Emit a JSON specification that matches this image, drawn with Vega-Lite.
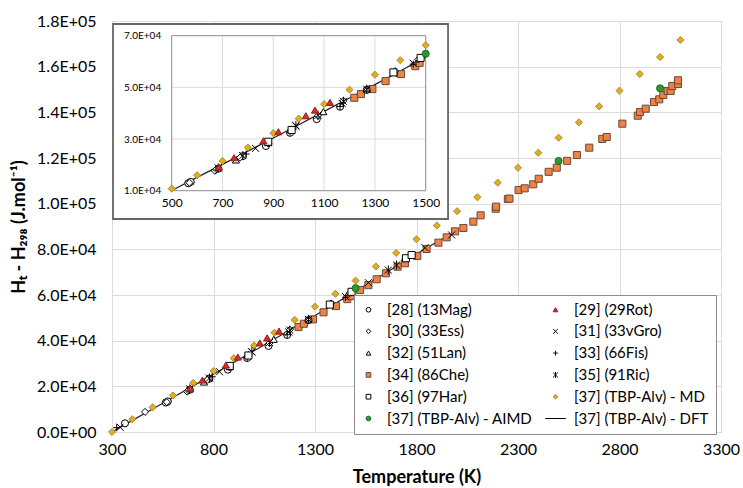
{
  "$schema": "https://vega.github.io/schema/vega-lite/v6.json",
  "width": 609,
  "height": 411,
  "autosize": {"type": "none"},
  "padding": {"left": 112, "top": 21, "right": 22, "bottom": 56},
  "background": "white",
  "config": {
    "font": "Lato",
    "view": {"stroke": "#8c8c8c", "strokeWidth": 1},
    "axis": {"labelFont": "Lato", "titleFont": "Lato", "labelColor": "#000", "titleColor": "#000", "gridColor": "#dcdcdc", "gridWidth": 1},
    "legend": {
      "orient": "none", "legendX": 242, "legendY": 274, "columns": 2, "direction": "horizontal",
      "fillColor": "white", "strokeColor": "#8c8c8c", "padding": 7,
      "rowPadding": 5.8, "columnPadding": 10, "labelFont": "Lato", "labelFontSize": 15,
      "labelColor": "#000", "labelOffset": 11, "labelLimit": 300, "symbolSize": 22, "symbolStrokeWidth": 1
    }
  },
  "datasets": {
    "dft": [
      {"T": 300, "H": 0}, {"T": 400, "H": 5100}, {"T": 500, "H": 10100}, {"T": 600, "H": 15150},
      {"T": 700, "H": 20200}, {"T": 800, "H": 25300}, {"T": 900, "H": 30400}, {"T": 1000, "H": 35550},
      {"T": 1100, "H": 40700}, {"T": 1200, "H": 45850}, {"T": 1300, "H": 51050}, {"T": 1400, "H": 56300},
      {"T": 1500, "H": 61700}, {"T": 1600, "H": 67000}, {"T": 1700, "H": 72500}, {"T": 1800, "H": 78000},
      {"T": 1900, "H": 83200}, {"T": 2000, "H": 88000}
    ],
    "pts": [
      {"s": "[34] (86Che)", "T": 1219, "H": 45970}, {"s": "[34] (86Che)", "T": 1245, "H": 47400},
      {"s": "[34] (86Che)", "T": 1290, "H": 49340}, {"s": "[34] (86Che)", "T": 1342, "H": 52430},
      {"s": "[34] (86Che)", "T": 1403, "H": 55140}, {"s": "[34] (86Che)", "T": 1459, "H": 58200},
      {"s": "[34] (86Che)", "T": 1476, "H": 59500}, {"s": "[34] (86Che)", "T": 1522, "H": 62190},
      {"s": "[34] (86Che)", "T": 1563, "H": 64300}, {"s": "[34] (86Che)", "T": 1604, "H": 66900},
      {"s": "[34] (86Che)", "T": 1650, "H": 69500}, {"s": "[34] (86Che)", "T": 1707, "H": 72400},
      {"s": "[34] (86Che)", "T": 1743, "H": 73900}, {"s": "[34] (86Che)", "T": 1804, "H": 77080},
      {"s": "[34] (86Che)", "T": 1850, "H": 80150}, {"s": "[34] (86Che)", "T": 1908, "H": 82920},
      {"s": "[34] (86Che)", "T": 1949, "H": 85260}, {"s": "[34] (86Che)", "T": 1990, "H": 87880},
      {"s": "[34] (86Che)", "T": 2031, "H": 89340}, {"s": "[34] (86Che)", "T": 2080, "H": 92120},
      {"s": "[34] (86Che)", "T": 2116, "H": 94890}, {"s": "[34] (86Che)", "T": 2190, "H": 97800},
      {"s": "[34] (86Che)", "T": 2192, "H": 98690}, {"s": "[34] (86Che)", "T": 2250, "H": 102050},
      {"s": "[34] (86Che)", "T": 2258, "H": 102200}, {"s": "[34] (86Che)", "T": 2303, "H": 105990},
      {"s": "[34] (86Che)", "T": 2333, "H": 106720}, {"s": "[34] (86Che)", "T": 2375, "H": 108480},
      {"s": "[34] (86Che)", "T": 2402, "H": 110900}, {"s": "[34] (86Che)", "T": 2451, "H": 113950},
      {"s": "[34] (86Che)", "T": 2491, "H": 115770}, {"s": "[34] (86Che)", "T": 2542, "H": 118760},
      {"s": "[34] (86Che)", "T": 2590, "H": 121300}, {"s": "[34] (86Che)", "T": 2651, "H": 124520},
      {"s": "[34] (86Che)", "T": 2715, "H": 128330}, {"s": "[34] (86Che)", "T": 2737, "H": 129200},
      {"s": "[34] (86Che)", "T": 2814, "H": 135030}, {"s": "[34] (86Che)", "T": 2890, "H": 138530},
      {"s": "[34] (86Che)", "T": 2901, "H": 140150}, {"s": "[34] (86Che)", "T": 2929, "H": 141600},
      {"s": "[34] (86Che)", "T": 2970, "H": 144530}, {"s": "[34] (86Che)", "T": 2996, "H": 145700},
      {"s": "[34] (86Che)", "T": 3016, "H": 147600}, {"s": "[34] (86Che)", "T": 3037, "H": 149350},
      {"s": "[34] (86Che)", "T": 3052, "H": 149350}, {"s": "[34] (86Che)", "T": 3060, "H": 151540},
      {"s": "[34] (86Che)", "T": 3088, "H": 152410}, {"s": "[34] (86Che)", "T": 3088, "H": 154030},
      {"s": "[37] (TBP-Alv) - MD", "T": 300, "H": 0}, {"s": "[37] (TBP-Alv) - MD", "T": 400, "H": 5600},
      {"s": "[37] (TBP-Alv) - MD", "T": 500, "H": 10800}, {"s": "[37] (TBP-Alv) - MD", "T": 600, "H": 16000},
      {"s": "[37] (TBP-Alv) - MD", "T": 700, "H": 21500}, {"s": "[37] (TBP-Alv) - MD", "T": 800, "H": 26700},
      {"s": "[37] (TBP-Alv) - MD", "T": 900, "H": 32300}, {"s": "[37] (TBP-Alv) - MD", "T": 1000, "H": 37900},
      {"s": "[37] (TBP-Alv) - MD", "T": 1100, "H": 43500}, {"s": "[37] (TBP-Alv) - MD", "T": 1200, "H": 49100},
      {"s": "[37] (TBP-Alv) - MD", "T": 1300, "H": 54900}, {"s": "[37] (TBP-Alv) - MD", "T": 1400, "H": 60500},
      {"s": "[37] (TBP-Alv) - MD", "T": 1500, "H": 66300}, {"s": "[37] (TBP-Alv) - MD", "T": 1600, "H": 72500},
      {"s": "[37] (TBP-Alv) - MD", "T": 1700, "H": 78400}, {"s": "[37] (TBP-Alv) - MD", "T": 1800, "H": 84400},
      {"s": "[37] (TBP-Alv) - MD", "T": 1900, "H": 90400}, {"s": "[37] (TBP-Alv) - MD", "T": 2000, "H": 96700},
      {"s": "[37] (TBP-Alv) - MD", "T": 2100, "H": 102800}, {"s": "[37] (TBP-Alv) - MD", "T": 2200, "H": 109200},
      {"s": "[37] (TBP-Alv) - MD", "T": 2300, "H": 115700}, {"s": "[37] (TBP-Alv) - MD", "T": 2400, "H": 122300},
      {"s": "[37] (TBP-Alv) - MD", "T": 2500, "H": 128900}, {"s": "[37] (TBP-Alv) - MD", "T": 2600, "H": 135600},
      {"s": "[37] (TBP-Alv) - MD", "T": 2700, "H": 142600}, {"s": "[37] (TBP-Alv) - MD", "T": 2800, "H": 149500},
      {"s": "[37] (TBP-Alv) - MD", "T": 2900, "H": 156800}, {"s": "[37] (TBP-Alv) - MD", "T": 3000, "H": 164200},
      {"s": "[37] (TBP-Alv) - MD", "T": 3100, "H": 171700},
      {"s": "[28] (13Mag)", "T": 364, "H": 3800}, {"s": "[28] (13Mag)", "T": 565, "H": 12900},
      {"s": "[28] (13Mag)", "T": 575, "H": 13400}, {"s": "[28] (13Mag)", "T": 683, "H": 18500},
      {"s": "[28] (13Mag)", "T": 780, "H": 23400}, {"s": "[28] (13Mag)", "T": 871, "H": 27300},
      {"s": "[28] (13Mag)", "T": 966, "H": 32400}, {"s": "[28] (13Mag)", "T": 1071, "H": 37700},
      {"s": "[28] (13Mag)", "T": 1163, "H": 42500}, {"s": "[28] (13Mag)", "T": 1268, "H": 49000},
      {"s": "[30] (33Ess)", "T": 463, "H": 8800}, {"s": "[30] (33Ess)", "T": 570, "H": 13100},
      {"s": "[30] (33Ess)", "T": 670, "H": 17700}, {"s": "[30] (33Ess)", "T": 769, "H": 22800},
      {"s": "[30] (33Ess)", "T": 880, "H": 28300}, {"s": "[30] (33Ess)", "T": 972, "H": 33700},
      {"s": "[30] (33Ess)", "T": 1076, "H": 39000}, {"s": "[30] (33Ess)", "T": 1176, "H": 44800},
      {"s": "[30] (33Ess)", "T": 1379, "H": 56300}, {"s": "[30] (33Ess)", "T": 1471, "H": 60800},
      {"s": "[31] (33vGro)", "T": 340, "H": 2100}, {"s": "[31] (33vGro)", "T": 830, "H": 26400},
      {"s": "[31] (33vGro)", "T": 989, "H": 35000}, {"s": "[31] (33vGro)", "T": 1171, "H": 43800},
      {"s": "[31] (33vGro)", "T": 1373, "H": 55400}, {"s": "[31] (33vGro)", "T": 1451, "H": 59300},
      {"s": "[31] (33vGro)", "T": 1563, "H": 65400}, {"s": "[31] (33vGro)", "T": 1842, "H": 80700},
      {"s": "[31] (33vGro)", "T": 1973, "H": 86300},
      {"s": "[32] (51Lan)", "T": 753, "H": 21900}, {"s": "[32] (51Lan)", "T": 880, "H": 28600},
      {"s": "[32] (51Lan)", "T": 1097, "H": 40600}, {"s": "[32] (51Lan)", "T": 1268, "H": 49500},
      {"s": "[33] (66Fis)", "T": 323, "H": 1900}, {"s": "[33] (66Fis)", "T": 675, "H": 18000},
      {"s": "[33] (66Fis)", "T": 793, "H": 24200}, {"s": "[33] (66Fis)", "T": 966, "H": 32600},
      {"s": "[33] (66Fis)", "T": 1163, "H": 42600}, {"s": "[33] (66Fis)", "T": 1451, "H": 59000},
      {"s": "[35] (91Ric)", "T": 683, "H": 18800}, {"s": "[35] (91Ric)", "T": 780, "H": 23600},
      {"s": "[35] (91Ric)", "T": 989, "H": 35200}, {"s": "[35] (91Ric)", "T": 1076, "H": 39200},
      {"s": "[35] (91Ric)", "T": 1176, "H": 44600}, {"s": "[35] (91Ric)", "T": 1268, "H": 49300},
      {"s": "[35] (91Ric)", "T": 1661, "H": 70900}, {"s": "[35] (91Ric)", "T": 1702, "H": 73100},
      {"s": "[36] (97Har)", "T": 880, "H": 28950}, {"s": "[36] (97Har)", "T": 972, "H": 33500},
      {"s": "[36] (97Har)", "T": 1373, "H": 55800}, {"s": "[36] (97Har)", "T": 1480, "H": 61400},
      {"s": "[36] (97Har)", "T": 1748, "H": 76100}, {"s": "[36] (97Har)", "T": 1776, "H": 77500},
      {"s": "[29] (29Rot)", "T": 686, "H": 19170}, {"s": "[29] (29Rot)", "T": 745, "H": 22760},
      {"s": "[29] (29Rot)", "T": 861, "H": 29340}, {"s": "[29] (29Rot)", "T": 920, "H": 32820},
      {"s": "[29] (29Rot)", "T": 1028, "H": 39010}, {"s": "[29] (29Rot)", "T": 1064, "H": 41210},
      {"s": "[29] (29Rot)", "T": 1123, "H": 44190},
      {"s": "[37] (TBP-Alv) - AIMD", "T": 1500, "H": 63000}, {"s": "[37] (TBP-Alv) - AIMD", "T": 2500, "H": 118700},
      {"s": "[37] (TBP-Alv) - AIMD", "T": 3000, "H": 150500}
    ],
    "igx": [{"T": 700}, {"T": 900}, {"T": 1100}, {"T": 1300}],
    "igy": [{"H": 30000}, {"H": 50000}]
  },
  "layer": [
    {
      "layer": [
        {
          "data": {"name": "dft"},
          "mark": {"type": "line", "color": "#222222", "strokeWidth": 1.2},
          "encoding": {
            "x": {"field": "T", "type": "quantitative",
              "scale": {"domain": [300, 3300], "nice": false, "zero": false},
              "axis": {"values": [300, 800, 1300, 1800, 2300, 2800, 3300], "format": "d", "grid": true, "domain": false, "ticks": false,
                "title": "Temperature (K)", "labelFontSize": 16, "titleFontSize": 18, "titleFontWeight": "bold",
                "labelPadding": 9, "titlePadding": 11, "labelFlush": false, "labelOverlap": false}},
            "y": {"field": "H", "type": "quantitative",
              "scale": {"domain": [0, 180000], "nice": false, "zero": false},
              "axis": {"values": [0, 20000, 40000, 60000, 80000, 100000, 120000, 140000, 160000, 180000], "grid": true,
                "domain": false, "ticks": false, "title": "Hₜ - H₂₉₈ (J.mol⁻¹)", "labelFontSize": 16, "titleFontSize": 18,
                "titleFontWeight": "bold", "labelPadding": 16, "titlePadding": 8, "labelOverlap": false, "labelFlush": false,
                "labelExpr": "datum.value == 0 ? '0.0E+00' : format(datum.value / pow(10, floor(log(datum.value) / LN10 + 1e-9)), '.1f') + 'E+' + (floor(log(datum.value) / LN10 + 1e-9) < 10 ? '0' : '') + floor(log(datum.value) / LN10 + 1e-9)"}}
          }
        },
        {
          "data": {"name": "pts"},
          "mark": {"type": "point", "size": 50, "strokeWidth": 1, "opacity": 1},
          "encoding": {
            "x": {"field": "T", "type": "quantitative"},
            "y": {"field": "H", "type": "quantitative"},
            "shape": {"field": "s", "type": "nominal", "title": null,
              "scale": {"domain": ["[28] (13Mag)", "[29] (29Rot)", "[30] (33Ess)", "[31] (33vGro)", "[32] (51Lan)", "[33] (66Fis)", "[34] (86Che)", "[35] (91Ric)", "[36] (97Har)", "[37] (TBP-Alv) - MD", "[37] (TBP-Alv) - AIMD", "[37] (TBP-Alv) - DFT"],
                "range": ["circle", "triangle-up", "diamond", "M-1,-1L1,1M-1,1L1,-1", "triangle-up", "M-1,0L1,0M0,-1L0,1", "square", "M-1,-1L1,1M-1,1L1,-1M0,-1.3L0,1.3", "square", "diamond", "circle", "M-4.4,0L4.4,0"]}},
            "fill": {"field": "s", "type": "nominal", "title": null,
              "scale": {"domain": ["[28] (13Mag)", "[29] (29Rot)", "[30] (33Ess)", "[31] (33vGro)", "[32] (51Lan)", "[33] (66Fis)", "[34] (86Che)", "[35] (91Ric)", "[36] (97Har)", "[37] (TBP-Alv) - MD", "[37] (TBP-Alv) - AIMD", "[37] (TBP-Alv) - DFT"],
                "range": ["white", "#d42f2a", "white", "transparent", "white", "transparent", "#ee8244", "transparent", "white", "#e8b004", "#2e9a2e", "transparent"]}},
            "stroke": {"field": "s", "type": "nominal", "title": null,
              "scale": {"domain": ["[28] (13Mag)", "[29] (29Rot)", "[30] (33Ess)", "[31] (33vGro)", "[32] (51Lan)", "[33] (66Fis)", "[34] (86Che)", "[35] (91Ric)", "[36] (97Har)", "[37] (TBP-Alv) - MD", "[37] (TBP-Alv) - AIMD", "[37] (TBP-Alv) - DFT"],
                "range": ["#000000", "#9b1c1c", "#000000", "#000000", "#000000", "#000000", "#6b4a3a", "#000000", "#000000", "#9a8a60", "#1e6a1e", "#000000"]}}
          }
        }
      ]
    },
    {
      "layer": [
        {
          "data": {"values": [{}]},
          "mark": {"type": "rect", "fill": "white", "stroke": "#666666", "strokeWidth": 1.8},
          "encoding": {
            "x": {"datum": 269, "type": "quantitative",
              "scale": {"domain": [500, 1500], "range": [59.7, 313.7], "nice": false, "zero": false},
              "axis": {"orient": "bottom", "offset": -241.3, "values": [500, 700, 900, 1100, 1300, 1500], "format": "d", "grid": false,
                "domain": false, "ticks": false, "title": null, "labelFontSize": 12, "labelPadding": 7, "zindex": 2,
                "labelOverlap": false, "labelFlush": false}},
            "x2": {"datum": 1588},
            "y": {"datum": -955, "type": "quantitative",
              "scale": {"domain": [10000, 70000], "range": [169.7, 14.7], "nice": false, "zero": false},
              "axis": {"orient": "left", "offset": -59.7, "values": [10000, 30000, 50000, 70000], "grid": false,
                "domain": false, "ticks": false, "title": null, "labelFontSize": 10, "labelPadding": 11, "zindex": 2,
                "labelOverlap": false, "labelFlush": false,
                "labelExpr": "format(datum.value / pow(10, floor(log(datum.value) / LN10 + 1e-9)), '.1f') + 'E+0' + floor(log(datum.value) / LN10 + 1e-9)"}},
            "y2": {"datum": 74530}
          }
        },
        {
          "data": {"name": "igx"},
          "mark": {"type": "rule", "color": "#dcdcdc", "strokeWidth": 1},
          "encoding": {"x": {"field": "T", "type": "quantitative"}, "y": {"datum": 10000}, "y2": {"datum": 70000}}
        },
        {
          "data": {"name": "igy"},
          "mark": {"type": "rule", "color": "#dcdcdc", "strokeWidth": 1},
          "encoding": {"y": {"field": "H", "type": "quantitative"}, "x": {"datum": 500}, "x2": {"datum": 1500}}
        },
        {
          "data": {"values": [{}]},
          "mark": {"type": "rect", "fill": null, "stroke": "#8c8c8c", "strokeWidth": 1},
          "encoding": {"x": {"datum": 500}, "x2": {"datum": 1500}, "y": {"datum": 10000}, "y2": {"datum": 70000}}
        },
        {
          "data": {"name": "dft"},
          "transform": [{"filter": "datum.T >= 500 && datum.T <= 1500"}],
          "mark": {"type": "line", "color": "#222222", "strokeWidth": 1.2},
          "encoding": {"x": {"field": "T", "type": "quantitative"}, "y": {"field": "H", "type": "quantitative"}}
        },
        {
          "data": {"name": "pts"},
          "transform": [{"filter": "datum.T >= 495 && datum.T <= 1505"}],
          "mark": {"type": "point", "size": 50, "strokeWidth": 1, "opacity": 1},
          "encoding": {
            "x": {"field": "T", "type": "quantitative"},
            "y": {"field": "H", "type": "quantitative"},
            "shape": {"field": "s", "type": "nominal", "title": null},
            "fill": {"field": "s", "type": "nominal", "title": null},
            "stroke": {"field": "s", "type": "nominal", "title": null}
          }
        }
      ]
    }
  ],
  "resolve": {"scale": {"x": "independent", "y": "independent"}}
}
